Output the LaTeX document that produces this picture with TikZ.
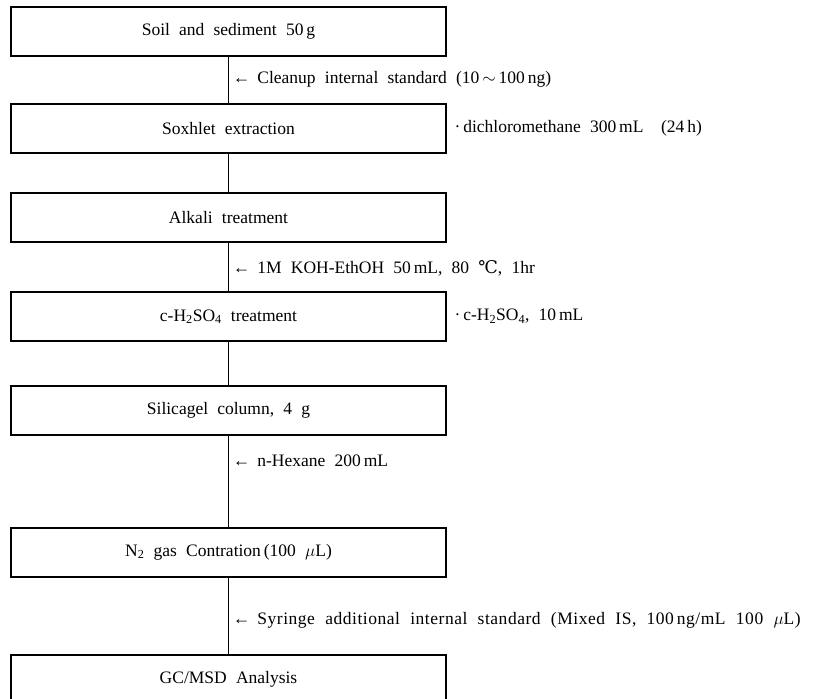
\documentclass[tikz,border=0pt]{standalone}
\usepackage{fontspec}
\setmainfont{Liberation Serif}[WordSpace=2.1]
\newfontfamily\symfont{DejaVu Serif}
\usetikzlibrary{positioning}

\begin{document}
\begin{tikzpicture}[x=1pt, y=-1pt, font=\fontsize{17.5}{20}\selectfont,
  stepbox/.style={draw, line width=2pt, minimum width=435pt, minimum height=49pt, inner sep=0pt},
  flow/.style={line width=0.8pt},
  note/.style={right, inner sep=4pt}]
  \clip (0,0) rectangle (815,699);
  \node[stepbox] (soil)    at (228.5,31)    {Soil and sediment 50\,g};
  \node[stepbox] (soxhlet) at (228.5,128.5) {Soxhlet extraction};
  \node[stepbox] (alkali)  at (228.5,217.5) {Alkali treatment};
  \node[stepbox] (acid)    at (228.5,316.5) {c-H\textsubscript{2}SO\textsubscript{4} treatment};
  \node[stepbox] (silica)  at (228.5,410)   {Silicagel column, 4 g};
  \node[stepbox] (conc)    at (228.5,552)   {N\textsubscript{2} gas Contration\,(100 $\mu$L)};
  \node[stepbox] (gcmsd)   at (228.5,679.5) {GC/MSD Analysis};
  % reagents beside the boxes
  \node[right=4pt of soxhlet] (dcm) {·\,dichloromethane 300\,mL\quad(24\,h)};
  \node[right=4pt of acid] (sulf) {·\,c-H\textsubscript{2}SO\textsubscript{4}, 10\,mL};
  % flow lines with what is added
  \draw[flow] (soil) -- node[note] {←\hspace{7pt}Cleanup internal standard (10\,$\sim$\,100\,ng)} (soxhlet);
  \draw[flow] (soxhlet) -- (alkali);
  \draw[flow] (alkali) -- node[note, pos=0.52] {←\hspace{7pt}1M KOH-EthOH 50\,mL, 80 {\symfont ℃}, 1hr} (acid);
  \draw[line width=1.6pt] (acid) -- (silica);
  \draw[flow] (silica) -- node[note, pos=0.28] {←\hspace{7pt}n-Hexane 200\,mL} (conc);
  \draw[flow] (conc) -- node[note, pos=0.56] {←\hspace{7pt}\addfontfeature{LetterSpace=3}Syringe additional internal standard (Mixed IS, 100\,ng/mL 100 $\mu$L)} (gcmsd);
\end{tikzpicture}
\end{document}
